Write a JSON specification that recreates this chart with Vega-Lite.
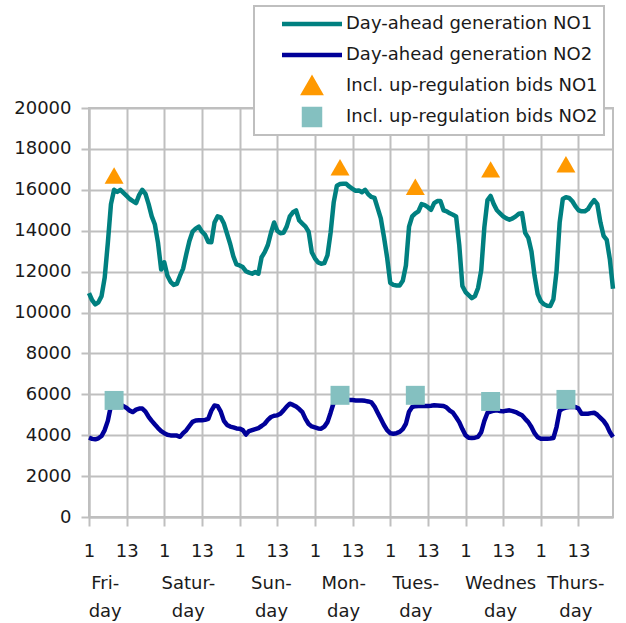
{
"$schema": "https://vega.github.io/schema/vega-lite/v6.json",
"width": 524, "height": 409,
"autosize": {"type": "none"},
"padding": {"left": 89, "top": 108, "right": 13, "bottom": 106},
"background": "white",
"config": {
 "view": {"stroke": "#BFBFBF", "strokeWidth": 2},
 "axis": {"labelFont": "DejaVu Sans", "labelFontSize": 18, "labelColor": "#1a1a1a", "gridColor": "#BFBFBF", "gridWidth": 2, "gridOpacity": 1, "domainColor": "#BFBFBF", "domainWidth": 2, "tickColor": "#BFBFBF", "tickWidth": 2},
 "legend": {"labelFont": "DejaVu Sans", "labelFontSize": 18, "labelColor": "#1a1a1a", "labelLimit": 500, "padding": 6, "clipHeight": 24, "symbolOffset": 41.5, "labelOffset": 23.5, "rowPadding": 7, "symbolSize": 256, "symbolStrokeWidth": 4.5, "fillColor": "white", "strokeColor": "#BFBFBF", "strokeWidth": 2}
},
"datasets": {
 "gen": [
{"hour":1,"NO1":10950,"NO2":3880},{"hour":2,"NO1":10600,"NO2":3820},{"hour":3,"NO1":10400,"NO2":3800},{"hour":4,"NO1":10500,"NO2":3850},{"hour":5,"NO1":10800,"NO2":3960},{"hour":6,"NO1":11700,"NO2":4250},{"hour":7,"NO1":13400,"NO2":4700},{"hour":8,"NO1":15300,"NO2":5450},{"hour":9,"NO1":16000,"NO2":5680},{"hour":10,"NO1":15900,"NO2":5600},
{"hour":11,"NO1":16000,"NO2":5500},{"hour":12,"NO1":15850,"NO2":5420},{"hour":13,"NO1":15700,"NO2":5330},{"hour":14,"NO1":15550,"NO2":5200},{"hour":15,"NO1":15450,"NO2":5130},{"hour":16,"NO1":15350,"NO2":5250},{"hour":17,"NO1":15750,"NO2":5300},{"hour":18,"NO1":16000,"NO2":5300},{"hour":19,"NO1":15800,"NO2":5150},{"hour":20,"NO1":15300,"NO2":4900},
{"hour":21,"NO1":14700,"NO2":4700},{"hour":22,"NO1":14300,"NO2":4520},{"hour":23,"NO1":13400,"NO2":4350},{"hour":24,"NO1":12100,"NO2":4200},{"hour":25,"NO1":12450,"NO2":4100},{"hour":26,"NO1":11800,"NO2":4020},{"hour":27,"NO1":11500,"NO2":3990},{"hour":28,"NO1":11350,"NO2":3990},{"hour":29,"NO1":11400,"NO2":3980},{"hour":30,"NO1":11800,"NO2":3920},
{"hour":31,"NO1":12150,"NO2":4100},{"hour":32,"NO1":12850,"NO2":4240},{"hour":33,"NO1":13500,"NO2":4450},{"hour":34,"NO1":13950,"NO2":4650},{"hour":35,"NO1":14100,"NO2":4720},{"hour":36,"NO1":14200,"NO2":4730},{"hour":37,"NO1":13950,"NO2":4730},{"hour":38,"NO1":13800,"NO2":4750},{"hour":39,"NO1":13450,"NO2":4800},{"hour":40,"NO1":13440,"NO2":5200},
{"hour":41,"NO1":14400,"NO2":5450},{"hour":42,"NO1":14700,"NO2":5420},{"hour":43,"NO1":14650,"NO2":5150},{"hour":44,"NO1":14350,"NO2":4700},{"hour":45,"NO1":13850,"NO2":4500},{"hour":46,"NO1":13350,"NO2":4420},{"hour":47,"NO1":12750,"NO2":4380},{"hour":48,"NO1":12350,"NO2":4330},{"hour":49,"NO1":12300,"NO2":4320},{"hour":50,"NO1":12220,"NO2":4250},
{"hour":51,"NO1":12020,"NO2":4030},{"hour":52,"NO1":11950,"NO2":4200},{"hour":53,"NO1":11900,"NO2":4250},{"hour":54,"NO1":11975,"NO2":4300},{"hour":55,"NO1":11900,"NO2":4350},{"hour":56,"NO1":12700,"NO2":4450},{"hour":57,"NO1":12950,"NO2":4560},{"hour":58,"NO1":13300,"NO2":4750},{"hour":59,"NO1":13900,"NO2":4890},{"hour":60,"NO1":14400,"NO2":4950},
{"hour":61,"NO1":14000,"NO2":4970},{"hour":62,"NO1":13880,"NO2":5050},{"hour":63,"NO1":13900,"NO2":5215},{"hour":64,"NO1":14200,"NO2":5400},{"hour":65,"NO1":14700,"NO2":5540},{"hour":66,"NO1":14900,"NO2":5480},{"hour":67,"NO1":14990,"NO2":5400},{"hour":68,"NO1":14500,"NO2":5280},{"hour":69,"NO1":14350,"NO2":5130},{"hour":70,"NO1":14200,"NO2":4800},
{"hour":71,"NO1":13950,"NO2":4550},{"hour":72,"NO1":12950,"NO2":4430},{"hour":73,"NO1":12650,"NO2":4380},{"hour":74,"NO1":12450,"NO2":4330},{"hour":75,"NO1":12385,"NO2":4320},{"hour":76,"NO1":12415,"NO2":4420},{"hour":77,"NO1":12800,"NO2":4640},{"hour":78,"NO1":13900,"NO2":5100},{"hour":79,"NO1":15400,"NO2":5600},{"hour":80,"NO1":16200,"NO2":5800},
{"hour":81,"NO1":16280,"NO2":5750},{"hour":82,"NO1":16290,"NO2":5730},{"hour":83,"NO1":16290,"NO2":5730},{"hour":84,"NO1":16150,"NO2":5720},{"hour":85,"NO1":16050,"NO2":5720},{"hour":86,"NO1":15950,"NO2":5700},{"hour":87,"NO1":15970,"NO2":5700},{"hour":88,"NO1":15880,"NO2":5700},{"hour":89,"NO1":16000,"NO2":5680},{"hour":90,"NO1":15780,"NO2":5650},
{"hour":91,"NO1":15650,"NO2":5600},{"hour":92,"NO1":15600,"NO2":5400},{"hour":93,"NO1":15100,"NO2":5100},{"hour":94,"NO1":14600,"NO2":4800},{"hour":95,"NO1":13700,"NO2":4500},{"hour":96,"NO1":12700,"NO2":4250},{"hour":97,"NO1":11450,"NO2":4100},{"hour":98,"NO1":11350,"NO2":4075},{"hour":99,"NO1":11320,"NO2":4100},{"hour":100,"NO1":11325,"NO2":4160},
{"hour":101,"NO1":11550,"NO2":4300},{"hour":102,"NO1":12300,"NO2":4560},{"hour":103,"NO1":14200,"NO2":5150},{"hour":104,"NO1":14700,"NO2":5380},{"hour":105,"NO1":14850,"NO2":5420},{"hour":106,"NO1":14950,"NO2":5425},{"hour":107,"NO1":15300,"NO2":5425},{"hour":108,"NO1":15250,"NO2":5425},{"hour":109,"NO1":15150,"NO2":5430},{"hour":110,"NO1":15020,"NO2":5440},
{"hour":111,"NO1":15350,"NO2":5460},{"hour":112,"NO1":15450,"NO2":5450},{"hour":113,"NO1":15450,"NO2":5440},{"hour":114,"NO1":15000,"NO2":5425},{"hour":115,"NO1":14950,"NO2":5350},{"hour":116,"NO1":14850,"NO2":5200},{"hour":117,"NO1":14780,"NO2":5100},{"hour":118,"NO1":14700,"NO2":4880},{"hour":119,"NO1":13300,"NO2":4640},{"hour":120,"NO1":11300,"NO2":4300},
{"hour":121,"NO1":11000,"NO2":4000},{"hour":122,"NO1":10850,"NO2":3880},{"hour":123,"NO1":10700,"NO2":3860},{"hour":124,"NO1":10800,"NO2":3880},{"hour":125,"NO1":11200,"NO2":3920},{"hour":126,"NO1":12060,"NO2":4150},{"hour":127,"NO1":14170,"NO2":4700},{"hour":128,"NO1":15500,"NO2":5100},{"hour":129,"NO1":15700,"NO2":5150},{"hour":130,"NO1":15300,"NO2":5200},
{"hour":131,"NO1":15000,"NO2":5215},{"hour":132,"NO1":14850,"NO2":5180},{"hour":133,"NO1":14700,"NO2":5165},{"hour":134,"NO1":14600,"NO2":5200},{"hour":135,"NO1":14535,"NO2":5215},{"hour":136,"NO1":14600,"NO2":5180},{"hour":137,"NO1":14700,"NO2":5130},{"hour":138,"NO1":14830,"NO2":5050},{"hour":139,"NO1":14860,"NO2":4970},{"hour":140,"NO1":13900,"NO2":4800},
{"hour":141,"NO1":13650,"NO2":4640},{"hour":142,"NO1":13000,"NO2":4400},{"hour":143,"NO1":11800,"NO2":4100},{"hour":144,"NO1":10900,"NO2":3900},{"hour":145,"NO1":10550,"NO2":3830},{"hour":146,"NO1":10400,"NO2":3830},{"hour":147,"NO1":10330,"NO2":3830},{"hour":148,"NO1":10320,"NO2":3840},{"hour":149,"NO1":10650,"NO2":3860},{"hour":150,"NO1":12000,"NO2":4400},
{"hour":151,"NO1":14400,"NO2":5200},{"hour":152,"NO1":15550,"NO2":5300},{"hour":153,"NO1":15640,"NO2":5350},{"hour":154,"NO1":15600,"NO2":5380},{"hour":155,"NO1":15450,"NO2":5380},{"hour":156,"NO1":15200,"NO2":5380},{"hour":157,"NO1":15000,"NO2":5300},{"hour":158,"NO1":14950,"NO2":5050},{"hour":159,"NO1":14950,"NO2":5050},{"hour":160,"NO1":15050,"NO2":5050},
{"hour":161,"NO1":15300,"NO2":5080},{"hour":162,"NO1":15500,"NO2":5100},{"hour":163,"NO1":15300,"NO2":5000},{"hour":164,"NO1":14400,"NO2":4850},{"hour":165,"NO1":13750,"NO2":4700},{"hour":166,"NO1":13550,"NO2":4480},{"hour":167,"NO1":12600,"NO2":4150},{"hour":168,"NO1":11160,"NO2":3910}
 ],
 "bids": [
{"hour":9,"series":"bids NO1","value":16700},{"hour":81,"series":"bids NO1","value":17100},{"hour":105,"series":"bids NO1","value":16150},{"hour":129,"series":"bids NO1","value":17000},{"hour":153,"series":"bids NO1","value":17250},
{"hour":9,"series":"bids NO2","value":5700},{"hour":81,"series":"bids NO2","value":5950},{"hour":105,"series":"bids NO2","value":5950},{"hour":129,"series":"bids NO2","value":5650},{"hour":153,"series":"bids NO2","value":5750}
 ],
 "days": [
{"pos":6,"day":"Friday"},{"pos":32.5,"day":"Saturday"},{"pos":59,"day":"Sunday"},{"pos":82,"day":"Monday"},{"pos":105,"day":"Tuesday"},{"pos":132,"day":"Wednesday"},{"pos":156,"day":"Thursday"}
 ]
},
"resolve": {"axis": {"x": "independent"}},
"layer": [
 {
  "data": {"name": "gen"},
  "transform": [{"fold": ["NO1", "NO2"], "as": ["series", "value"]}],
  "mark": {"type": "line", "strokeWidth": 4.5, "strokeJoin": "round"},
  "encoding": {
   "x": {"field": "hour", "type": "quantitative", "title": null, "scale": {"domain": [1, 168], "nice": false, "zero": false},
         "axis": {"orient": "bottom", "values": [1,13,25,37,49,61,73,85,97,109,121,133,145,157], "labelExpr": "(datum.value-1)%24==0?'1':'13'", "grid": true, "tickSize": 9, "labelPadding": 16, "labelFlush": false, "labelOverlap": false}},
   "y": {"field": "value", "type": "quantitative", "title": null, "scale": {"domain": [0, 20000], "nice": false},
         "axis": {"values": [0,2000,4000,6000,8000,10000,12000,14000,16000,18000,20000], "format": "d", "tickSize": 8, "labelPadding": 10, "grid": true, "labelFlush": false, "labelOverlap": false}},
   "color": {"field": "series", "type": "nominal",
             "scale": {"domain": ["NO1", "NO2", "bids NO1", "bids NO2"], "range": ["#008080", "#000099", "#FF9900", "#84C0C0"]},
             "legend": {"title": null, "orient": "none", "legendX": 165, "legendY": -102, "labelExpr": "(datum.label=='NO1'?'Day-ahead generation NO1':datum.label=='NO2'?'Day-ahead generation NO2':datum.label=='bids NO1'?'Incl. up-regulation bids NO1':'Incl. up-regulation bids NO2')+'      '"}}
  }
 },
 {
  "data": {"name": "bids"},
  "mark": {"type": "point", "filled": true, "opacity": 1, "size": 360},
  "encoding": {
   "x": {"field": "hour", "type": "quantitative", "title": null, "axis": null},
   "y": {"field": "value", "type": "quantitative", "title": null},
   "color": {"field": "series", "type": "nominal",
             "scale": {"domain": ["NO1", "NO2", "bids NO1", "bids NO2"], "range": ["#008080", "#000099", "#FF9900", "#84C0C0"]},
             "legend": {"title": null, "orient": "none", "legendX": 165, "legendY": -102, "labelExpr": "(datum.label=='NO1'?'Day-ahead generation NO1':datum.label=='NO2'?'Day-ahead generation NO2':datum.label=='bids NO1'?'Incl. up-regulation bids NO1':'Incl. up-regulation bids NO2')+'      '"}},
   "shape": {"field": "series", "type": "nominal",
             "scale": {"domain": ["NO1", "NO2", "bids NO1", "bids NO2"], "range": ["M-3.75,0H3.75", "M-3.75,0H3.75", "triangle-up", "square"]},
             "legend": {"title": null, "orient": "none", "legendX": 165, "legendY": -102, "labelExpr": "(datum.label=='NO1'?'Day-ahead generation NO1':datum.label=='NO2'?'Day-ahead generation NO2':datum.label=='bids NO1'?'Incl. up-regulation bids NO1':'Incl. up-regulation bids NO2')+'      '"}}
  }
 },
 {
  "data": {"name": "days"},
  "mark": {"type": "point", "opacity": 0},
  "encoding": {
   "x": {"field": "pos", "type": "quantitative", "title": null,
         "axis": {"orient": "bottom", "values": [6, 32.5, 59, 82, 105, 132, 156], "labelExpr": "datum.value==6?['Fri-','day']:datum.value==32.5?['Satur-','day']:datum.value==59?['Sun-','day']:datum.value==82?['Mon-','day']:datum.value==105?['Tues-','day']:datum.value==132?['Wednes','day']:['Thurs-','day']", "domain": false, "ticks": false, "tickSize": 0, "grid": false, "labelPadding": 57, "labelLineHeight": 28, "labelFlush": false, "labelOverlap": false, "labelBaseline": "top"}}
  }
 }
]
}
